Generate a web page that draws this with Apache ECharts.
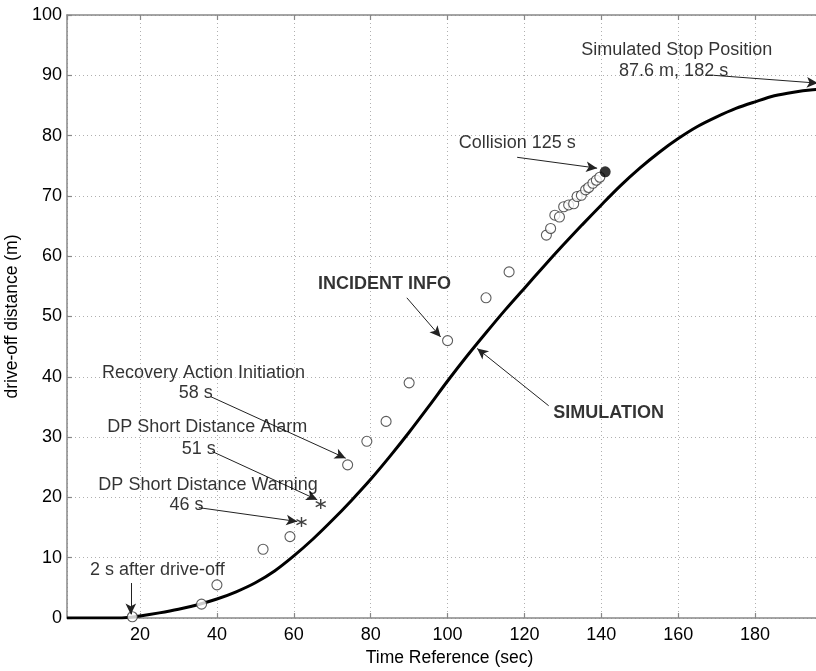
<!DOCTYPE html>
<html>
<head>
<meta charset="utf-8">
<script src="https://cdn.jsdelivr.net/npm/echarts@6/dist/echarts.min.js"></script>
<style>
  html, body { margin: 0; padding: 0; background: #fff; }
  #chart { width: 816px; height: 671px; }
</style>
</head>
<body>
<div id="chart"></div>
<script>
// simulated drive-off curve
var simTime = [1, 12, 16, 20, 25, 30, 35, 40, 45, 50, 55, 60, 65, 70, 75, 80, 85, 90, 95, 100,
    105, 110, 115, 120, 125, 130, 135, 140, 145, 150, 155, 160, 165, 170, 175, 180, 185, 190, 195, 198];
var simDist = [0, 0, 0.05, 0.35, 0.85, 1.45, 2.2, 3.15, 4.35, 5.85, 7.8, 10.3, 13.1, 16.2, 19.5, 23.0, 26.8, 30.8, 35.0, 39.3,
    43.4, 47.3, 51.1, 54.7, 58.3, 61.8, 65.2, 68.5, 71.7, 74.6, 77.2, 79.5, 81.5, 83.1, 84.5, 85.6, 86.6, 87.2, 87.6, 87.7];

// incident info (open circles)
var obsTime = [18, 36, 40, 52, 59, 74, 79, 84, 90, 100, 110, 116,
    125.7, 126.8, 127.9, 129.1, 130.2, 131.5, 132.8, 133.7, 134.8, 135.9, 136.7, 137.8, 138.7, 139.6];
var obsDist = [0.2, 2.3, 5.5, 11.4, 13.5, 25.4, 29.3, 32.6, 39.0, 46.0, 53.1, 57.4,
    63.5, 64.6, 66.8, 66.5, 68.2, 68.5, 68.7, 69.9, 70.1, 71.0, 71.4, 72.1, 72.6, 73.1];

// DP warning / alarm (asterisks)
var dpTime = [62, 67];
var dpDist = [15.9, 18.9];

// collision (filled circle)
var colTime = [141];
var colDist = [74.0];

var xTicks = [20, 40, 60, 80, 100, 120, 140, 160, 180];

// annotation texts, placed in data coordinates
var noteText = ['Simulated Stop Position', '87.6 m, 182 s', 'Collision 125 s', 'INCIDENT INFO', 'SIMULATION',
    'Recovery Action Initiation', '58 s', 'DP Short Distance Alarm', '51 s',
    'DP Short Distance Warning', '46 s', '2 s after drive-off'];
var noteAt = [[159.6, 94.2], [158.8, 90.7], [118.1, 78.7], [83.6, 55.4], [141.9, 34.0],
    [36.5, 40.7], [34.5, 37.3], [37.5, 31.6], [35.3, 28.1],
    [37.7, 22.1], [32.1, 18.7], [24.5, 8.0]];
var noteBold = ['INCIDENT INFO', 'SIMULATION'];

// arrows: from -> to
var arrowFrom = [[169.2, 90.0], [118.1, 76.4], [89.4, 53.1], [126.3, 35.2], [38.4, 36.7], [38.8, 27.6], [35.3, 18.3], [17.6, 5.8]];
var arrowTo = [[196.3, 88.7], [138.9, 74.6], [98.2, 46.6], [107.7, 44.7], [73.5, 26.5], [66.1, 19.6], [60.9, 16.0], [17.6, 0.6]];

var FONT = 'Liberation Sans, Arial, Helvetica, sans-serif';

function pairs(xs, ys) {
    var out = [];
    for (var i = 0; i < xs.length; i++) {
        out.push([xs[i], ys[i]]);
    }
    return out;
}

var noteData = [];
for (var i = 0; i < noteText.length; i++) {
    noteData.push({
        name: noteText[i],
        value: noteAt[i],
        label: {fontWeight: noteBold.indexOf(noteText[i]) >= 0 ? 'bold' : 'normal'}
    });
}

var arrowData = [];
for (var j = 0; j < arrowFrom.length; j++) {
    arrowData.push([{coord: arrowFrom[j]}, {coord: arrowTo[j]}]);
}

var xAxisBase = {
    type: 'value',
    min: 1,
    max: 200,
    splitNumber: 10,
    axisLine: {show: true, onZero: false, lineStyle: {color: '#888', width: 1.5}},
    axisTick: {show: true, inside: true, length: 5, lineStyle: {color: '#888', width: 1.2}},
    splitLine: {show: false}
};

var chart = echarts.init(document.getElementById('chart'), null, {renderer: 'canvas'});

var option = {
    backgroundColor: '#fff',
    animation: false,
    textStyle: {fontFamily: FONT},
    grid: {left: 67, right: -16, top: 15, bottom: 53, containLabel: false, outerBoundsMode: 'none'},
    xAxis: [
        Object.assign({}, xAxisBase, {
            position: 'bottom',
            name: 'Time Reference (sec)',
            nameLocation: 'middle',
            nameGap: 31,
            nameTextStyle: {color: '#000', fontSize: 17.5, fontFamily: FONT},
            axisLabel: {
                show: true, color: '#000', fontSize: 18, fontFamily: FONT, margin: 8,
                showMinLabel: false, showMaxLabel: false,
                formatter: function (v) { return xTicks.indexOf(v) >= 0 ? String(v) : ''; }
            },
            splitLine: {show: true, lineStyle: {color: '#b0b0b0', type: [1, 3], width: 1}}
        }),
        Object.assign({}, xAxisBase, {
            position: 'top',
            axisLabel: {show: false}
        })
    ],
    yAxis: {
        type: 'value',
        min: 0,
        max: 100,
        interval: 10,
        name: 'drive-off distance (m)',
        nameLocation: 'middle',
        nameGap: 36,
        nameRotate: 90,
        nameTextStyle: {color: '#000', fontSize: 17.5, fontFamily: FONT},
        axisLine: {show: true, onZero: false, lineStyle: {color: '#888', width: 1.5}},
        axisTick: {show: true, inside: true, length: 5, lineStyle: {color: '#888', width: 1.2}},
        axisLabel: {color: '#000', fontSize: 18, fontFamily: FONT, margin: 5},
        splitLine: {show: true, lineStyle: {color: '#b0b0b0', type: [1, 3], width: 1}}
    },
    series: [
        {
            name: 'SIMULATION',
            type: 'line',
            data: pairs(simTime, simDist),
            showSymbol: false,
            smooth: 0.3,
            lineStyle: {color: '#000', width: 3},
            silent: true,
            z: 3,
            markLine: {
                silent: true,
                symbol: ['none', 'arrow'],
                symbolSize: [8, 11],
                label: {show: false},
                lineStyle: {color: '#222', width: 1, type: 'solid'},
                data: arrowData
            }
        },
        {
            name: 'INCIDENT INFO',
            type: 'scatter',
            data: pairs(obsTime, obsDist),
            symbol: 'circle',
            symbolSize: 10,
            itemStyle: {color: '#fff', borderColor: '#333', borderWidth: 1.1},
            silent: true,
            z: 4
        },
        {
            name: 'DP',
            type: 'scatter',
            data: pairs(dpTime, dpDist),
            symbol: 'path://M0,-5L0,5M-4.3,-2.5L4.3,2.5M-4.3,2.5L4.3,-2.5',
            symbolSize: 10,
            itemStyle: {color: 'none', borderColor: '#111', borderWidth: 1.4},
            silent: true,
            z: 4
        },
        {
            name: 'Collision',
            type: 'scatter',
            data: pairs(colTime, colDist),
            symbol: 'circle',
            symbolSize: 11,
            itemStyle: {color: '#000'},
            silent: true,
            z: 5
        },
        {
            name: 'notes',
            type: 'scatter',
            data: noteData,
            symbolSize: 0,
            silent: true,
            z: 6,
            label: {
                show: true,
                position: 'inside',
                formatter: '{b}',
                color: '#000',
                fontSize: 18,
                fontFamily: FONT,
                align: 'center',
                verticalAlign: 'middle',
                textBorderWidth: 0,
                textShadowBlur: 0
            }
        }
    ]
};

chart.setOption(option, true);
</script>
</body>
</html>
